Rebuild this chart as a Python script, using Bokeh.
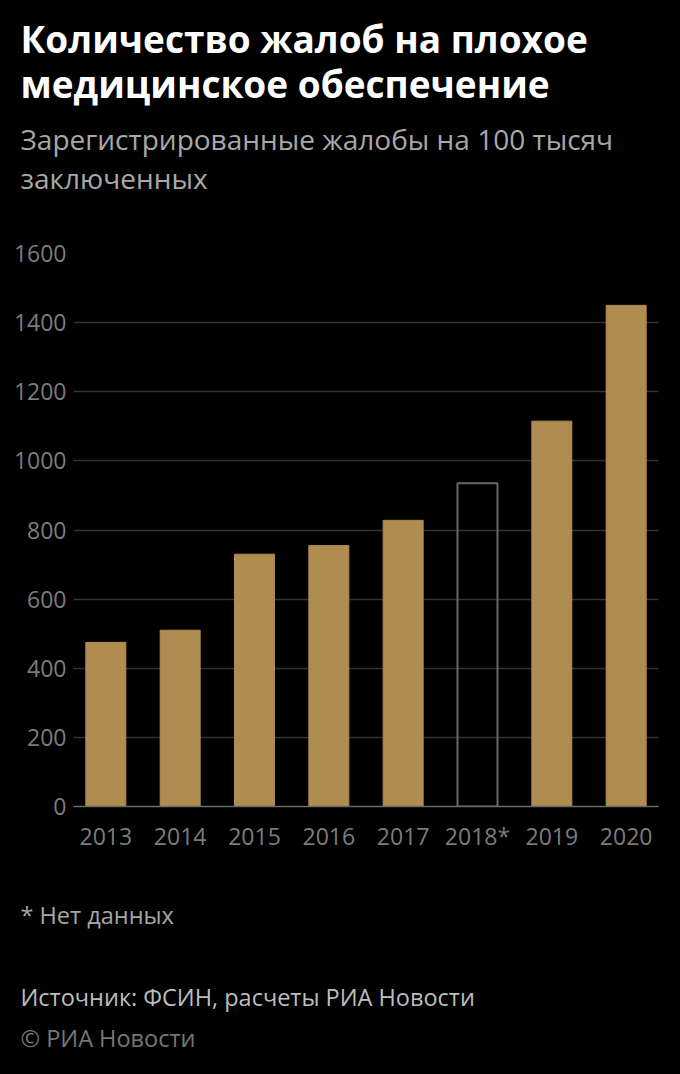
from bokeh.plotting import figure
from bokeh.models import ColumnDataSource, Range1d, FactorRange, FixedTicker, Title
from bokeh.embed import file_html
from bokeh.resources import INLINE

# ---- data ----
years = ["2013", "2014", "2015", "2016", "2017", "2018*", "2019", "2020"]
complaints = [475, 510, 730, 755, 828, 935, 1115, 1450]
has_data = [True, True, True, True, True, False, True, True]
y_ticks = [0, 200, 400, 600, 800, 1000, 1200, 1400, 1600]

title_text = "Количество жалоб на плохое\nмедицинское обеспечение"
subtitle_text = "Зарегистрированные жалобы на 100 тысяч\nзаключенных"
footnote = "* Нет данных"
source_text = "Источник: ФСИН, расчеты РИА Новости"
copyright_text = "© РИА Новости"

BAR = "#AF8C4F"
FONT = "Open Sans"
BG = "black"
W, H = 680, 1074

p = figure(
    x_range=FactorRange(*years, range_padding=-0.065, range_padding_units="absolute"),
    y_range=Range1d(0, 1600),
    width=W, height=H,
    output_backend="svg", toolbar_location=None,
    min_border_left=73, min_border_right=22,
    min_border_top=0, min_border_bottom=0,
    background_fill_color=BG, border_fill_color=BG,
)
p.outline_line_color = None
p.styles = {"background-color": "black"}

src_data = ColumnDataSource(dict(
    x=[y for y, h in zip(years, has_data) if h],
    top=[v for v, h in zip(complaints, has_data) if h],
))
src_missing = ColumnDataSource(dict(
    x=[y for y, h in zip(years, has_data) if not h],
    top=[v for v, h in zip(complaints, has_data) if not h],
))

p.vbar(x="x", top="top", bottom=0, width=0.538, source=src_data,
       fill_color=BAR, line_color=BAR, line_width=1)
p.vbar(x="x", top="top", bottom=0, width=0.538, source=src_missing,
       fill_color=None, line_color="#686868", line_width=2)

p.xgrid.grid_line_color = None
p.ygrid.grid_line_color = "#333333"
p.ygrid.grid_line_width = 1.5
p.yaxis.ticker = FixedTicker(ticks=y_ticks)
p.ygrid.ticker = FixedTicker(ticks=y_ticks)

for ax in (p.xaxis, p.yaxis):
    ax.major_tick_line_color = None
    ax.minor_tick_line_color = None
    ax.major_tick_out = 0
    ax.major_tick_in = 0
    ax.minor_tick_out = 0
    ax.minor_tick_in = 0
    ax.major_label_text_color = "#7c7c7c"
    ax.major_label_text_font = FONT
    ax.major_label_text_font_size = "23px"

p.yaxis.axis_line_color = None
p.yaxis.major_label_standoff = 7
p.xaxis.axis_line_color = "#6a6a6a"
p.xaxis.axis_line_width = 1.5
p.xaxis.major_label_standoff = 13


def make_title(txt, size, color, standoff, style="normal", lh=1.0, valign="top"):
    return Title(text=txt, align="left", offset=-53, standoff=standoff,
                 vertical_align=valign,
                 text_font=FONT, text_font_size=size, text_color=color,
                 text_font_style=style, text_line_height=lh)


def spacer(standoff):
    return Title(text=" ", text_font_size="1px", standoff=standoff, text_color=BG)


# above: first item sits next to the frame
p.add_layout(spacer(51.0), "above")
p.add_layout(make_title(subtitle_text, "28px", "#a8a8a8", 0.8, lh=1.023), "above")
p.add_layout(make_title(title_text, "37px", "white", 21.3, style="bold", lh=0.873,
                        valign="bottom"), "above")

# below: after the x axis, moving outward
p.add_layout(make_title(footnote, "23.5px", "#a6a6a6", 89.2), "below")
p.add_layout(make_title(source_text, "23.5px", "#bdbdbd", 6.8), "below")
p.add_layout(make_title(copyright_text, "23.5px", "#767676", 7.2), "below")
p.add_layout(spacer(12.1), "below")

open("out.html", "w").write(file_html(p, INLINE))
